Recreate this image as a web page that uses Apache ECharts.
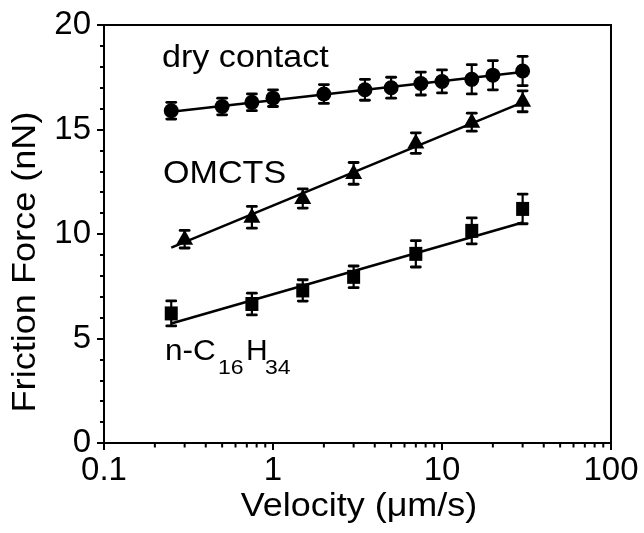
<!DOCTYPE html>
<html>
<head>
<meta charset="utf-8">
<script src="https://cdn.jsdelivr.net/npm/echarts@6/dist/echarts.min.js"></script>
<style>
  html, body { margin: 0; padding: 0; background: #fff; }
  #chart { width: 644px; height: 533px; }
</style>
</head>
<body>
<div id="chart"></div>
<script>
// dry contact
const dryX = [0.25, 0.5, 0.75, 1, 2, 3.5, 5, 7.5, 10, 15, 20, 30];
const dryY = [15.9, 16.1, 16.3, 16.5, 16.7, 16.9, 17.0, 17.2, 17.3, 17.4, 17.6, 17.8];
const dryErr = [0.4, 0.4, 0.4, 0.4, 0.45, 0.5, 0.5, 0.55, 0.55, 0.7, 0.7, 0.7];
// OMCTS
const omctsX = [0.3, 0.75, 1.5, 3, 7, 15, 30];
const omctsY = [9.75, 10.8, 11.7, 12.9, 14.35, 15.35, 16.35];
const omctsErr = [0.42, 0.52, 0.46, 0.52, 0.49, 0.43, 0.5];
// n-C16H34
const hexX = [0.25, 0.75, 1.5, 3, 7, 15, 30];
const hexY = [6.2, 6.65, 7.3, 7.95, 9.05, 10.15, 11.2];
const hexErr = [0.6, 0.52, 0.51, 0.52, 0.63, 0.62, 0.71];
// linear fits (F vs log v)
const fitX = [0.25, 30];
const dryFit = [15.85, 17.75];
const omctsFit = [9.35, 16.3];
const hexFit = [5.72, 10.55];
// axis ticks
const xMinorTicks = [0.2, 0.3, 0.4, 0.5, 0.6, 0.7, 0.8, 0.9, 2, 3, 4, 5, 6, 7, 8, 9, 20, 30, 40, 50, 60, 70, 80, 90];

const FONT = 'Liberation Sans, Arial, sans-serif';

function pairs(xs, ys) {
  return xs.map((x, i) => [x, ys[i]]);
}

function errorBars(xs, ys, errs) {
  return {
    type: 'custom',
    data: xs.map((x, i) => [x, ys[i] - errs[i], ys[i] + errs[i]]),
    encode: { x: 0, y: [1, 2] },
    z: 2,
    silent: true,
    renderItem: function (params, api) {
      const lo = api.coord([api.value(0), api.value(1)]);
      const hi = api.coord([api.value(0), api.value(2)]);
      const w = 4.5;
      const st = { stroke: '#000', lineWidth: 2.2 };
      const cap = { stroke: '#000', lineWidth: 2.8, lineCap: 'round' };
      return {
        type: 'group',
        children: [
          { type: 'line', shape: { x1: lo[0], y1: lo[1], x2: hi[0], y2: hi[1] }, style: st },
          { type: 'line', shape: { x1: lo[0] - w, y1: lo[1], x2: lo[0] + w, y2: lo[1] }, style: cap },
          { type: 'line', shape: { x1: hi[0] - w, y1: hi[1], x2: hi[0] + w, y2: hi[1] }, style: cap }
        ]
      };
    }
  };
}

function fitLine(ys) {
  return {
    type: 'line',
    data: pairs(fitX, ys),
    showSymbol: false,
    symbol: 'none',
    z: 3,
    lineStyle: { color: '#000', width: 2.5 }
  };
}

function points(xs, ys, symbol, size, offset) {
  return {
    type: 'scatter',
    data: pairs(xs, ys),
    symbol: symbol,
    symbolSize: size,
    symbolOffset: offset || [0, 0],
    z: 4,
    itemStyle: { color: '#000', opacity: 1 }
  };
}

// minor ticks of the log axis, drawn through the axis scale
const minorTickSeries = {
  type: 'custom',
  data: xMinorTicks.map(v => [v, 0]),
  encode: { x: 0, y: 1 },
  clip: false,
  silent: true,
  z: 5,
  renderItem: function (params, api) {
    const p = api.coord([api.value(0), 0]);
    return {
      type: 'line',
      shape: { x1: p[0], y1: p[1], x2: p[0], y2: p[1] + 4.5 },
      style: { stroke: '#000', lineWidth: 2 }
    };
  }
};

function label(text, x, y, size, sx, extra) {
  return Object.assign({
    type: 'text', x: x, y: y, scaleX: sx,
    style: { text: text, font: size + 'px ' + FONT, fill: '#000', verticalAlign: 'middle' }
  }, extra || {});
}

const chart = echarts.init(document.getElementById('chart'), null, { renderer: 'canvas' });

const option = {
  animation: false,
  backgroundColor: '#fff',
  grid: {
    left: 104, right: 33, top: 25, bottom: 90,
    show: true, borderColor: '#000', borderWidth: 2, backgroundColor: 'transparent'
  },
  xAxis: {
    type: 'log',
    logBase: 10,
    min: 0.1,
    max: 100,
    axisLine: { show: true, onZero: false, lineStyle: { color: '#000', width: 2 } },
    axisTick: { show: true, length: 7, lineStyle: { color: '#000', width: 2 } },
    minorTick: { show: false },
    splitLine: { show: false },
    axisLabel: {
      fontFamily: FONT, fontSize: 33, color: '#000', margin: 11,
      formatter: function (v) { return String(+Number(v).toPrecision(3)); }
    }
  },
  yAxis: {
    type: 'value',
    min: 0,
    max: 20,
    interval: 5,
    axisLine: { show: true, lineStyle: { color: '#000', width: 2 } },
    axisTick: { show: true, length: 7, lineStyle: { color: '#000', width: 2 } },
    minorTick: { show: true, splitNumber: 5, length: 4, lineStyle: { color: '#000', width: 2 } },
    splitLine: { show: false },
    axisLabel: { fontFamily: FONT, fontSize: 33, color: '#000', margin: 13 }
  },
  series: [
    errorBars(dryX, dryY, dryErr),
    errorBars(omctsX, omctsY, omctsErr),
    errorBars(hexX, hexY, hexErr),
    fitLine(dryFit),
    fitLine(omctsFit),
    fitLine(hexFit),
    points(dryX, dryY, 'circle', 15),
    points(omctsX, omctsY, 'triangle', [17, 15], [0, -2]),
    points(hexX, hexY, 'rect', [13, 14]),
    minorTickSeries
  ],
  graphic: [
    // axis titles
    { type: 'text', x: 359, y: 507, scaleX: 1.09,
      style: { text: 'Velocity (\u03bcm/s)', font: '33px ' + FONT, fill: '#000', align: 'center', verticalAlign: 'middle' } },
    { type: 'text', x: 26, y: 262, rotation: Math.PI / 2, scaleX: 1.094,
      style: { text: 'Friction Force (nN)', font: '33px ' + FONT, fill: '#000', align: 'center', verticalAlign: 'middle' } },
    // series annotations
    label('dry contact', 162, 58.6, 31, 1.1),
    label('OMCTS', 163, 174.3, 31, 1.1),
    label('n-C', 165, 352, 30, 1.05),
    label('16', 218, 368, 20, 1.15),
    label('H', 246, 352, 30, 1),
    label('34', 265, 368, 20, 1.15)
  ]
};

chart.setOption(option);
</script>
</body>
</html>
